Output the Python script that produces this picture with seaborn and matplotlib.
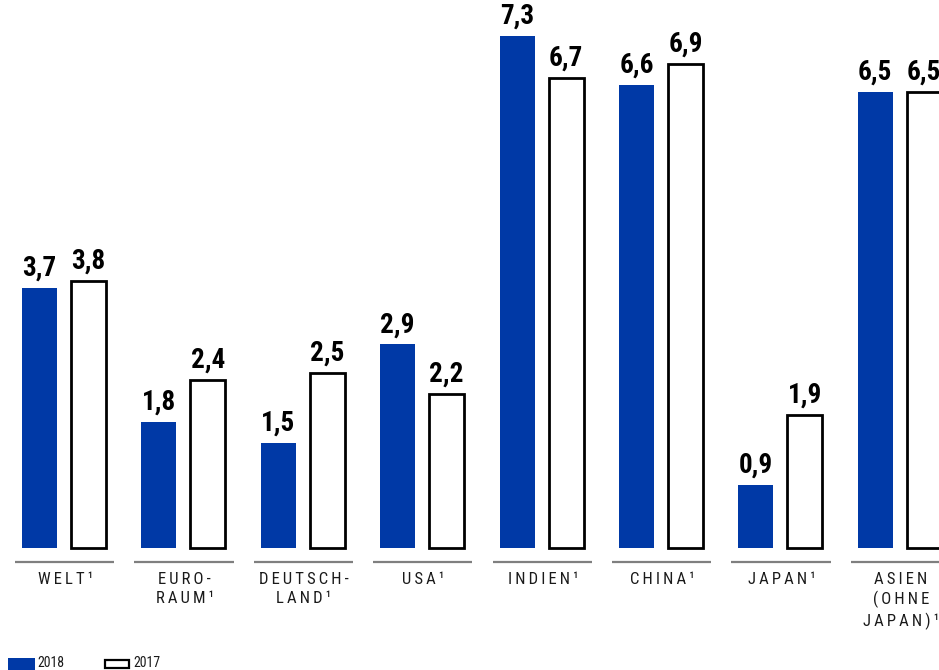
import matplotlib
matplotlib.use("Agg")
import matplotlib.pyplot as plt
import seaborn as sns
import pandas as pd
from matplotlib.patches import Rectangle

categories = ["WELT¹", "EURO-\nRAUM¹", "DEUTSCH-\nLAND¹", "USA¹", "INDIEN¹", "CHINA¹", "JAPAN¹", "ASIEN\n(OHNE\nJAPAN)¹"]
values_2018 = [3.7, 1.8, 1.5, 2.9, 7.3, 6.6, 0.9, 6.5]
values_2017 = [3.8, 2.4, 2.5, 2.2, 6.7, 6.9, 1.9, 6.5]
years = ["2018", "2017"]

BLUE = "#0039A6"
sns.set_theme(style="white")
FAM = ["Roboto Condensed", "Liberation Sans Narrow", "DejaVu Sans"]
plt.rcParams["font.family"] = FAM
plt.rcParams["font.stretch"] = "condensed"

df = pd.DataFrame({
    "cat": list(range(len(categories))) * 2,
    "year": [years[0]] * len(categories) + [years[1]] * len(categories),
    "value": values_2018 + values_2017,
})
df["cat"] = df["cat"].astype(str)

W, H = 939, 670
fig = plt.figure(figsize=(W / 100, H / 100), dpi=100)
ax = fig.add_axes([0, 0, 1, 1])

sns.barplot(data=df, x="cat", y="value", hue="year", hue_order=years,
            palette={"2018": BLUE, "2017": "white"}, width=0.821, gap=0.286,
            legend=False, ax=ax, saturation=1, errorbar=None)

# style bars
for cont, yr in zip(ax.containers, years):
    for p in cont:
        if yr == "2017":
            p.set_edgecolor("black")
            p.set_linewidth(2.0)
        else:
            p.set_edgecolor("none")
            p.set_linewidth(0)

for cont, vals in zip(ax.containers, [values_2018, values_2017]):
    ax.bar_label(cont, labels=[f"{v:.1f}".replace(".", ",") for v in vals],
                 padding=4.5, fontsize=19.5, fontweight="heavy", color="black",
                 fontstretch="condensed")

pitch = 119.4
ppu = 70.2
x0 = 64
base = 548
ax.set_xlim(-x0 / pitch, (W - x0) / pitch)
ax.set_ylim(-(H - base) / ppu, base / ppu)
ax.axis("off")

TS = "\u2009"

def spaced(s):
    return "\n".join(TS.join(list(line)) for line in s.split("\n"))

for i, c in enumerate(categories):
    ax.plot([i - 0.41, i + 0.42], [-14 / ppu] * 2, color="#7f7f7f", lw=1.6,
            solid_capstyle="butt", clip_on=False)
    ax.text(i + 0.01, -24 / ppu, spaced(c), ha="center", va="top",
            fontsize=12, color="#1a1a1a", linespacing=1.3,
            fontstretch="condensed")

# legend
fig.patches.append(Rectangle((8 / W, 0), 27 / W, 12 / H, transform=fig.transFigure,
                             facecolor=BLUE, edgecolor="none"))
fig.text(37 / W, 0, "2018", fontsize=10, color="#1a1a1a", ha="left", va="bottom",
         fontstretch="condensed")
fig.patches.append(Rectangle((105 / W, 2 / H), 24 / W, 8 / H, transform=fig.transFigure,
                             facecolor="white", edgecolor="black", linewidth=1.6))
fig.text(133 / W, 0, "2017", fontsize=10, color="#1a1a1a", ha="left", va="bottom",
         fontstretch="condensed")

fig.savefig("out.png", dpi=100)
